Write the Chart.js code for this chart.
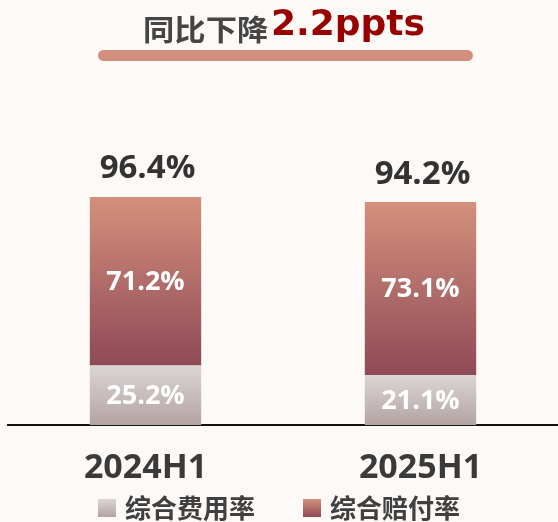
<!DOCTYPE html>
<html>
<head>
<meta charset="utf-8">
<script src="https://cdn.jsdelivr.net/npm/chart.js@4"></script>
<style>
  html, body { margin: 0; padding: 0; background: #fdf9f6; }
  #wrap { position: relative; width: 558px; height: 522px; overflow: hidden; font-family: "Open Sans", "Noto Sans CJK SC", sans-serif; }
  #chart { position: absolute; left: 0; top: 0; }
  .t { position: absolute; white-space: nowrap; font-weight: bold; line-height: 1; }
  #t1 { left: 143px; top: 14px; font-size: 29px; color: #454545; font-family: "Noto Sans CJK SC", sans-serif; transform: scaleX(1.08); transform-origin: left top; }
  #t2 { left: 271px; top: 5px; font-size: 36px; color: #990000; font-family: "DejaVu Sans", sans-serif; }
  #underline { position: absolute; left: 98px; top: 50px; width: 375px; height: 11px; border-radius: 6px; background: #d28f7e; }
  .sq { position: absolute; top: 499px; width: 18px; height: 18px; }
  .lg { position: absolute; top: 494px; font-size: 26px; font-weight: bold; color: #404040; line-height: 1; white-space: nowrap; font-family: "Noto Sans CJK SC", sans-serif; }
</style>
</head>
<body>
<div id="wrap">
  <canvas id="chart" width="558" height="522"></canvas>
  <span class="t" id="t1">同比下降</span>
  <span class="t" id="t2">2.2ppts</span>
  <div id="underline"></div>
  <div class="sq" style="left:98px; background: linear-gradient(#dcd5d5, #b3a3a3);"></div>
  <span class="lg" style="left:125px;">综合费用率</span>
  <div class="sq" style="left:303px; background: linear-gradient(#d4907c, #8e4a56);"></div>
  <span class="lg" style="left:330px;">综合赔付率</span>
</div>
<script>
// 数据
const periods = ["2024H1", "2025H1"];
const expenseRatio = [25.2, 21.1];   // 综合费用率
const lossRatio = [71.2, 73.1];      // 综合赔付率
const combinedRatio = [96.4, 94.2];  // 综合成本率

const seriesNames = ["综合费用率", "综合赔付率"];
const gradColors = [
    ["#dcd5d5", "#b3a3a3"],
    ["#d4907c", "#8e4a56"]
];
const numFont = '"Open Sans", "Noto Sans CJK SC", sans-serif';

function segGradient(ctx) {
    let chart = ctx.chart;
    let cols = gradColors[ctx.datasetIndex];
    if (!chart.chartArea || ctx.type !== "data") return cols[0];
    let y = chart.scales.y;
    let base = 0;
    for (let i = 0; i < ctx.datasetIndex; i++) {
        base += chart.data.datasets[i].data[ctx.dataIndex];
    }
    let top = base + ctx.raw;
    let g = chart.ctx.createLinearGradient(0, y.getPixelForValue(top), 0, y.getPixelForValue(base));
    g.addColorStop(0, cols[0]);
    g.addColorStop(1, cols[1]);
    return g;
}

const labelsPlugin = {
    id: "barLabels",
    afterDatasetsDraw(chart) {
        let c = chart.ctx;
        c.save();
        c.textAlign = "center";
        c.textBaseline = "middle";
        chart.data.datasets.forEach((ds, di) => {
            let meta = chart.getDatasetMeta(di);
            meta.data.forEach((bar, i) => {
                c.fillStyle = "#ffffff";
                c.font = "bold 27px " + numFont;
                c.fillText(ds.data[i].toFixed(1) + "%", bar.x, (bar.y + bar.base) / 2 + 1);
                if (di === chart.data.datasets.length - 1) {
                    c.fillStyle = "#333333";
                    c.font = "bold 33px " + numFont;
                    c.fillText(combinedRatio[i].toFixed(1) + "%", bar.x + 2, bar.y - 28);
                }
            });
        });
        c.restore();
    }
};

new Chart(document.getElementById("chart"), {
    type: "bar",
    data: {
        labels: periods,
        datasets: [
            { label: seriesNames[0], data: expenseRatio, backgroundColor: segGradient },
            { label: seriesNames[1], data: lossRatio, backgroundColor: segGradient }
        ]
    },
    options: {
        responsive: false,
        animation: false,
        events: [],
        layout: { padding: { left: 8, right: 0, top: 141, bottom: 10 } },
        datasets: { bar: { categoryPercentage: 1, barPercentage: 0.405, borderWidth: 0 } },
        plugins: { legend: { display: false }, tooltip: { enabled: false } },
        scales: {
            x: {
                stacked: true,
                grid: { display: false, drawTicks: false },
                border: { display: true, color: "#111111", width: 2 },
                ticks: { color: "#3a3a3a", padding: 23, font: { family: numFont, size: 34, weight: "bold" } }
            },
            y: {
                stacked: true,
                display: false,
                min: 0,
                max: 120
            }
        }
    },
    plugins: [labelsPlugin]
});
</script>
</body>
</html>
